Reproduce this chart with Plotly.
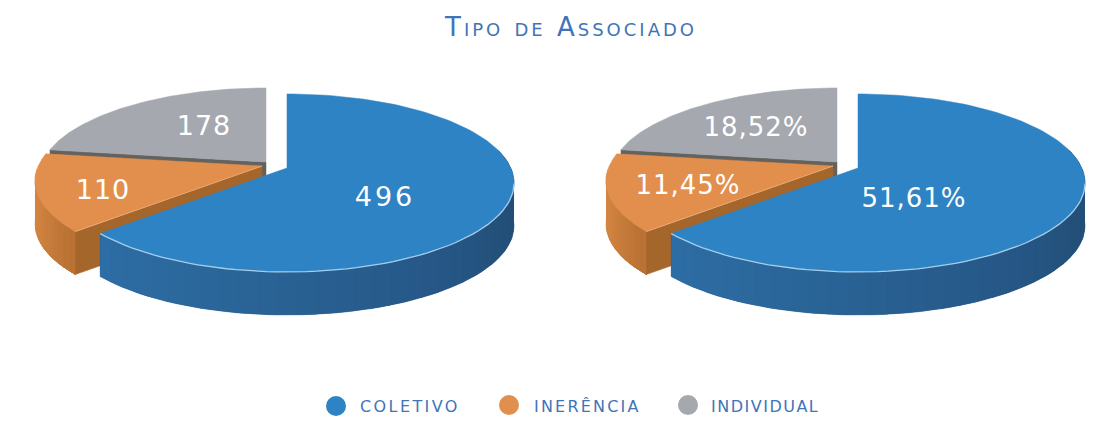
import numpy as np
import plotly.graph_objects as go

categories = ["COLETIVO", "INERÊNCIA", "INDIVIDUAL"]
values = [496, 110, 178]
percent_labels = ["51,61%", "11,45%", "18,52%"]
title_text = "Tipo de Associado"

TOP = ["#2d83c3", "#e28f4e", "#a5a8ae"]
TITLE_BLUE = "#3f74b8"
FONT = "DejaVu Sans"

# projection of the tilted disc
K, A, B, DEPTH = 0.168, 223.8, 86.5, 43

def proj(deg):
    t = np.radians(np.asarray(deg, dtype=float))
    u, v = np.sin(t), -np.cos(t)
    w = 1 - K * v
    return A * u / w, B * v / w

def mix(c1, c2, f):
    a = [int(c1[i:i + 2], 16) for i in (1, 3, 5)]
    b = [int(c2[i:i + 2], 16) for i in (1, 3, 5)]
    return "rgb(%d,%d,%d)" % tuple(round(x + (y - x) * f) for x, y in zip(a, b))

fig = go.Figure()

def poly(x, y, color, line=None, width=1):
    fig.add_trace(go.Scatter(x=list(x), y=list(y), mode="lines", fill="toself", fillcolor=color,
                             line=dict(color=line or color, width=width),
                             hoverinfo="skip", showlegend=False))

def stroke(x, y, color, width):
    fig.add_trace(go.Scatter(x=list(x), y=list(y), mode="lines", line=dict(color=color, width=width),
                             hoverinfo="skip", showlegend=False))

def top_face(ax, ay, a0, a1, color):
    th = np.linspace(a0, a1, 120)
    X, Y = proj(th)
    poly(np.r_[ax, ax + X, ax], np.r_[ay, ay + Y, ay], color, width=0.5)

def side(ax, ay, a0, a1, stops, n=36):
    # solid base first, so that no seams show between the shaded strips
    th = np.linspace(a0, a1, 80)
    X, Y = proj(th)
    poly(np.r_[ax + X, ax + X[::-1]], np.r_[ay + Y, ay + Y[::-1] + DEPTH], stops[len(stops) // 2], width=0.5)
    edges = np.linspace(a0, a1, n + 1)
    for i in range(n):
        th = np.linspace(edges[i], min(edges[i + 1] + 0.6, a1), 5)
        X, Y = proj(th)
        f = (i + 0.5) / n * (len(stops) - 1)
        j = min(int(f), len(stops) - 2)
        c = mix(stops[j], stops[j + 1], f - j)
        poly(np.r_[ax + X, ax + X[::-1]], np.r_[ay + Y, ay + Y[::-1] + DEPTH], c, width=0)

def radial_wall(ax, ay, deg, color):
    X, Y = proj(deg)
    poly([ax + X, ax, ax, ax + X], [ay + Y, ay, ay + DEPTH, ay + Y + DEPTH], color, width=0.5)

def draw_pie(dx):
    fracs = np.array(values, dtype=float) / sum(values) * 360
    e_blue = fracs[0]
    e_orange = e_blue + fracs[1]
    # apex of each exploded slice
    bx, by = 287 + dx, 168
    ox, oy = 262 + dx, 166
    gx, gy = 266 + dx, 162
    # grey
    radial_wall(gx, gy, e_orange, "#63625f")
    top_face(gx, gy, e_orange, 360, TOP[2])
    # orange
    side(ox, oy, e_orange - 10, e_blue, ["#d98a47", "#cf8240", "#b87132"], n=16)
    radial_wall(ox, oy, e_blue, "#a5662c")
    top_face(ox, oy, e_blue, e_orange, TOP[1])
    X, Y = proj(e_blue)
    stroke([ox + X, ox], [oy + Y, oy], "#eba872", 1)
    # blue
    side(bx, by, 78, e_blue, ["#1f4a70", "#234f78", "#26598a", "#2a6496", "#2d6ea6"])
    top_face(bx, by, 0, e_blue, TOP[0])
    X, Y = proj(np.linspace(100, e_blue, 60))
    stroke(bx + X, by + Y, "#a6cdea", 1.3)

draw_pie(0)
draw_pie(571)

# slice labels
pos_left = [(385, 199), (103, 192), (204, 128)]
pos_right = [(914, 200), (688, 187), (756, 129)]
fig.add_trace(go.Scatter(x=[p[0] for p in pos_left], y=[p[1] for p in pos_left], mode="text",
                         text=[str(v) for v in values], textposition="middle center",
                         textfont=dict(family=FONT, size=27, color="white"),
                         hoverinfo="skip", showlegend=False))
fig.add_trace(go.Scatter(x=[p[0] for p in pos_right], y=[p[1] for p in pos_right], mode="text",
                         text=percent_labels, textposition="middle center",
                         textfont=dict(family=FONT, size=26, color="white"),
                         hoverinfo="skip", showlegend=False))

# legend
dot_x = [336, 509, 688]
dot_y = [406, 405, 405]
text_x = [360, 534, 711]
fig.add_trace(go.Scatter(x=dot_x, y=dot_y, mode="markers",
                         marker=dict(size=20, color=TOP, line=dict(width=0)),
                         hoverinfo="skip", showlegend=False))
fig.add_trace(go.Scatter(x=text_x, y=[408, 408, 408], mode="text", text=categories,
                         textposition="middle right",
                         textfont=dict(family=FONT, size=16, color=TITLE_BLUE),
                         hoverinfo="skip", showlegend=False))

fig.update_layout(
    width=1104, height=425,
    margin=dict(l=0, r=0, t=0, b=0),
    paper_bgcolor="white", plot_bgcolor="white",
    xaxis=dict(range=[0, 1104], visible=False, fixedrange=True),
    yaxis=dict(range=[425, 0], visible=False, fixedrange=True),
    title=dict(text=title_text, x=571 / 1104, xanchor="center", y=1 - 27 / 425, yanchor="middle",
               font=dict(family=FONT, size=26, color=TITLE_BLUE, variant="small-caps")),
)

# the reference typeface is very wide: open up the tracking of the real text
post = """
document.body.style.margin = '0';
var tracking = {'COLETIVO': '2.4px', 'INERÊNCIA': '2.2px', 'INDIVIDUAL': '1.5px', '496': '3px'};
document.querySelectorAll('.textpoint text').forEach(function (t) {
  t.style.letterSpacing = tracking[t.textContent] || '1px';
});
document.querySelectorAll('.gtitle').forEach(function (t) { t.style.letterSpacing = '3px'; });
"""
fig.write_html("out.html", post_script=post, config={"displayModeBar": False})
